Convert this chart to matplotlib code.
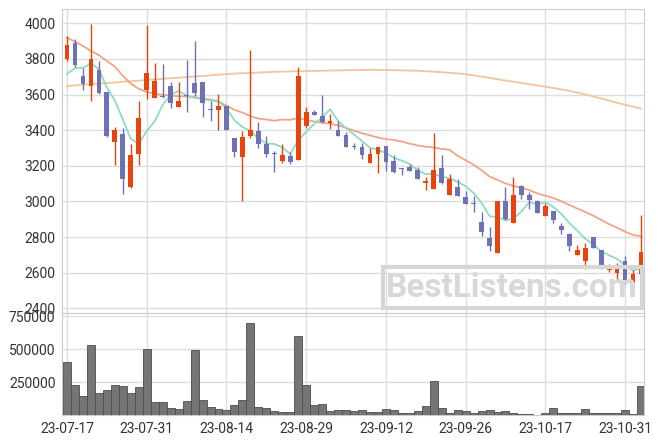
import numpy as np
import matplotlib
matplotlib.use('Agg')
import matplotlib.pyplot as plt
from matplotlib.patches import Rectangle

plt.rcParams['font.family'] = ['Roboto', 'DejaVu Sans']

# daily candles, 23-07-17 .. 23-11-02
opens = [3800, 3890, 3705, 3650, 3740, 3615, 3335, 3380, 3080, 3265,
         3628, 3583, 3592, 3649, 3533, 3600, 3665, 3671, 3520, 3514,
         3536, 3355, 3247, 3370, 3396, 3322, 3270, 3227, 3256, 3234,
         3426, 3501, 3480, 3443, 3402, 3374, 3311, 3304, 3218, 3268,
         3311, 3227, 3188, 3195, 3176, 3105, 3072, 3188, 3038, 3081,
         3027, 2993, 2884, 2794, 2712, 3002, 2880, 3084, 3034, 3002,
         2918, 2944, 2861, 2816, 2700, 2666, 2799, 2725, 2616, 2599,
         2665, 2539, 2593]
highs = [3930, 3910, 3750, 3995, 3790, 3615, 3420, 3410, 3320, 3565,
         3990, 3775, 3770, 3673, 3669, 3793, 3901, 3671, 3565, 3602,
         3536, 3355, 3398, 3850, 3445, 3365, 3284, 3322, 3277, 3753,
         3529, 3514, 3598, 3490, 3449, 3392, 3330, 3326, 3298, 3304,
         3311, 3261, 3188, 3210, 3191, 3135, 3383, 3259, 3152, 3128,
         3060, 3030, 2942, 2858, 3003, 3082, 3135, 3092, 3052, 3007,
         2989, 2944, 2880, 2824, 2753, 2764, 2800, 2725, 2651, 2655,
         2693, 2614, 2921]
lows = [3790, 3755, 3625, 3565, 3605, 3360, 3205, 3040, 3075, 3205,
        3575, 3580, 3583, 3523, 3530, 3500, 3593, 3475, 3450, 3402,
        3400, 3252, 3004, 3355, 3299, 3252, 3165, 3215, 3209, 3230,
        3411, 3484, 3443, 3406, 3368, 3305, 3293, 3240, 3216, 3158,
        3171, 3161, 3146, 3170, 3124, 3064, 3068, 3100, 3036, 3030,
        2985, 2942, 2807, 2721, 2712, 2895, 2880, 3011, 2955, 2934,
        2916, 2876, 2816, 2719, 2698, 2618, 2738, 2623, 2603, 2558,
        2535, 2537, 2591]
closes = [3880, 3765, 3660, 3800, 3610, 3365, 3400, 3125, 3260, 3470,
          3720, 3677, 3585, 3555, 3565, 3593, 3611, 3550, 3515, 3536,
          3402, 3277, 3361, 3402, 3322, 3265, 3266, 3262, 3219, 3705,
          3501, 3486, 3445, 3452, 3370, 3308, 3303, 3263, 3266, 3304,
          3223, 3167, 3184, 3172, 3128, 3116, 3176, 3102, 3126, 3032,
          2987, 2987, 2830, 2751, 3002, 2899, 3034, 3034, 3007, 2936,
          2972, 2895, 2841, 2749, 2725, 2741, 2740, 2638, 2640, 2625,
          2560, 2591, 2715]
volumes = [399000, 225000, 142000, 528000, 164000, 187000, 225000, 217000, 164000, 210000,
           498000, 96000, 96000, 51000, 43000, 104000, 490000, 111000, 58000, 43000,
           36000, 73000, 111000, 695000, 58000, 51000, 28000, 20000, 20000, 596000,
           225000, 73000, 81000, 28000, 36000, 36000, 28000, 36000, 20000, 20000,
           43000, 36000, 13000, 13000, 28000, 66000, 255000, 51000, 13000, 36000,
           28000, 13000, 28000, 36000, 20000, 28000, 13000, 5000, 5000, 1000,
           13000, 51000, 13000, 13000, 13000, 43000, 13000, 13000, 13000, 13000,
           36000, 5000, 217000]

ma5 = [3716, 3750, 3750, 3775, 3743, 3640, 3567, 3460, 3352, 3324,
       3395, 3450, 3542, 3601, 3620, 3595, 3582, 3575, 3567, 3561,
       3523, 3456, 3418, 3396, 3353, 3325, 3323, 3303, 3267, 3343,
       3391, 3435, 3471, 3518, 3451, 3412, 3376, 3339, 3302, 3289,
       3272, 3245, 3229, 3210, 3175, 3153, 3155, 3139, 3130, 3110,
       3085, 3047, 2992, 2917, 2911, 2894, 2903, 2944, 2995, 2982,
       2997, 2969, 2930, 2879, 2836, 2790, 2759, 2719, 2697, 2677,
       2641, 2611, 2626]
ma20 = [3920, 3897, 3873, 3845, 3822, 3789, 3757, 3705, 3662, 3632,
        3615, 3605, 3598, 3594, 3591, 3589, 3585, 3579, 3572, 3562,
        3538, 3514, 3499, 3479, 3465, 3460, 3453, 3460, 3458, 3469,
        3458, 3449, 3442, 3437, 3427, 3413, 3397, 3383, 3371, 3359,
        3350, 3345, 3336, 3324, 3314, 3307, 3303, 3295, 3290, 3256,
        3231, 3206, 3175, 3140, 3121, 3101, 3087, 3076, 3063, 3045,
        3032, 3019, 3001, 2980, 2960, 2941, 2920, 2896, 2872, 2852,
        2830, 2811, 2805]
ma60 = [3648, 3652, 3655, 3658, 3662, 3665, 3668, 3672, 3675, 3678,
        3682, 3685, 3689, 3692, 3695, 3698, 3702, 3705, 3708, 3712,
        3715, 3718, 3720, 3722, 3724, 3726, 3728, 3729, 3730, 3731,
        3732, 3733, 3734, 3735, 3736, 3737, 3738, 3738, 3739, 3739,
        3738, 3737, 3736, 3735, 3734, 3731, 3729, 3726, 3722, 3719,
        3714, 3708, 3701, 3694, 3686, 3679, 3672, 3665, 3658, 3651,
        3644, 3637, 3629, 3621, 3611, 3601, 3590, 3578, 3566, 3554,
        3543, 3532, 3521]

tick_idx = [0, 10, 20, 30, 40, 50, 60, 70]
tick_labels = ['23-07-17', '23-07-31', '23-08-14', '23-08-29',
               '23-09-12', '23-09-26', '23-10-17', '23-10-31']

up_color = '#e8440f'
down_color = '#6e71b3'
grid_color = '#dddddd'

x = np.arange(len(closes))
o = np.array(opens)
c = np.array(closes)
up = c >= o

fig = plt.figure(figsize=(6.63, 4.44), dpi=100)
ax1 = fig.add_axes([0.094, 0.295, 0.878, 0.684])
ax2 = fig.add_axes([0.094, 0.0653, 0.878, 0.2297], sharex=ax1)

# moving averages
ax1.plot(x, ma60, color='#f4c49c', lw=1.3, zorder=2)
ax1.plot(x, ma20, color='#efa586', lw=1.3, zorder=2)
ax1.plot(x, ma5, color='#8edcc0', lw=1.3, zorder=2)

# candles
colors = np.where(up, up_color, down_color)
ax1.vlines(x, lows, highs, colors=colors, lw=1.0, zorder=3)
body = np.maximum(np.abs(c - o), 5)
ax1.bar(x, body, bottom=np.minimum(o, c), width=0.6, color=colors, zorder=4)

ax1.set_ylim(2373, 4079)
ax1.set_yticks(range(2400, 4001, 200))
ax1.set_xlim(-0.59, 72.43)

# volume
ax2.bar(x, volumes, width=1.0, color='#757575', edgecolor='#4d4d4d', lw=0.6, zorder=3)
ax2.set_ylim(0, 773000)
ax2.set_yticks([250000, 500000, 750000])
ax2.set_xticks(tick_idx)
ax2.set_xticklabels(tick_labels)

for ax in (ax1, ax2):
    ax.grid(True, color=grid_color, lw=1.0, zorder=0)
    ax.set_axisbelow(True)
    ax.tick_params(length=0, labelsize=10, colors='#333333', pad=5)
    for s in ax.spines.values():
        s.set_color('#cccccc')
plt.setp(ax1.get_xticklabels(), visible=False)

# watermark
fig.patches.append(Rectangle((0.5777, 0.3063), 0.3906, 0.0923, transform=fig.transFigure,
                             fill=False, edgecolor='#d6d6d6', lw=3, zorder=5))
fig.text(0.7722, 0.352, 'BestListens.com', color='#d8d8d8', fontsize=24,
         fontweight='bold', ha='center', va='center', zorder=6)

plt.savefig('out.png', dpi=100)
